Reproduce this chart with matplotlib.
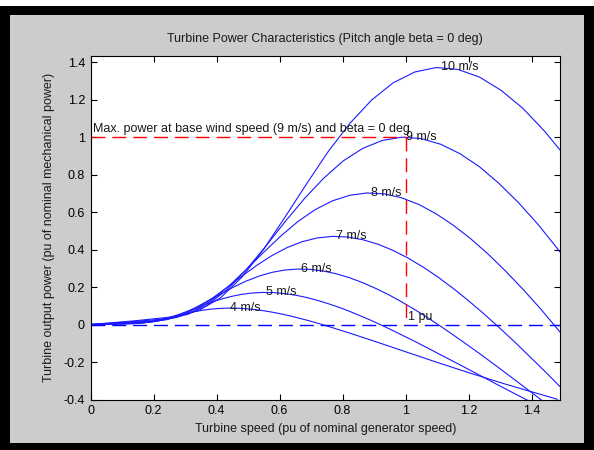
import matplotlib
matplotlib.use("Agg")
import matplotlib.pyplot as plt
from matplotlib.patches import Rectangle

plt.rcParams["font.family"] = ["Liberation Sans", "DejaVu Sans"]

# wind speeds (m/s) and the turbine curves: speed (pu) -> output power (pu)
wind_speeds = [4, 5, 6, 7, 8, 9, 10]

speed_4 = [0, 0.055, 0.110, 0.137, 0.165, 0.192, 0.219, 0.247, 0.274, 0.302,
           0.329, 0.357, 0.384, 0.412, 0.439, 0.466, 0.494, 0.521, 0.549, 0.576,
           0.604, 0.631, 0.658, 0.686, 0.713, 0.741, 0.768, 0.823, 0.878, 0.933,
           0.988, 1.043, 1.097, 1.207, 1.317, 1.481]
power_4 = [0, 0.0012, 0.0028, 0.0048, 0.0091, 0.0161, 0.0256, 0.0366, 0.0481, 0.0590,
           0.0687, 0.0767, 0.0825, 0.0862, 0.0878, 0.0871, 0.0845, 0.0800, 0.0739, 0.0662,
           0.0572, 0.0470, 0.0357, 0.0236, 0.0108, -0.0027, -0.0167, -0.0459, -0.0763, -0.1072,
           -0.1384, -0.1695, -0.2003, -0.2604, -0.3181, -0.3985]

speed_5 = [0, 0.069, 0.137, 0.171, 0.206, 0.240, 0.274, 0.309, 0.343, 0.377,
           0.412, 0.446, 0.480, 0.514, 0.549, 0.583, 0.617, 0.652, 0.686, 0.720,
           0.754, 0.789, 0.823, 0.857, 0.892, 0.926, 0.960, 1.029, 1.097, 1.166,
           1.235, 1.303, 1.372, 1.509]
power_5 = [0, 0.0024, 0.0054, 0.0093, 0.0177, 0.0315, 0.0500, 0.0716, 0.0939, 0.1153,
           0.1342, 0.1497, 0.1612, 0.1684, 0.1714, 0.1702, 0.1650, 0.1563, 0.1443, 0.1292,
           0.1116, 0.0917, 0.0698, 0.0462, 0.0211, -0.0053, -0.0326, -0.0897, -0.1490, -0.2094,
           -0.2704, -0.3311, -0.3913, -0.5087]

speed_6 = [0, 0.082, 0.165, 0.206, 0.247, 0.288, 0.329, 0.370, 0.412, 0.453,
           0.494, 0.535, 0.576, 0.617, 0.658, 0.700, 0.741, 0.782, 0.823, 0.864,
           0.905, 0.947, 0.988, 1.029, 1.070, 1.111, 1.152, 1.235, 1.317, 1.399,
           1.481, 1.564]
power_6 = [0, 0.0042, 0.0093, 0.0161, 0.0306, 0.0544, 0.0865, 0.1236, 0.1623, 0.1992,
           0.2318, 0.2587, 0.2785, 0.2910, 0.2962, 0.2941, 0.2851, 0.2700, 0.2493, 0.2233,
           0.1929, 0.1585, 0.1206, 0.0798, 0.0364, -0.0091, -0.0564, -0.1551, -0.2575, -0.3619,
           -0.4672, -0.5721]

speed_7 = [0, 0.096, 0.192, 0.240, 0.288, 0.336, 0.384, 0.432, 0.480, 0.528,
           0.576, 0.624, 0.672, 0.720, 0.768, 0.816, 0.864, 0.912, 0.960, 1.008,
           1.056, 1.104, 1.152, 1.200, 1.248, 1.296, 1.344, 1.440, 1.536]
power_7 = [0, 0.0067, 0.0148, 0.0256, 0.0485, 0.0865, 0.1373, 0.1963, 0.2577, 0.3163,
           0.3682, 0.4108, 0.4423, 0.4622, 0.4704, 0.4670, 0.4528, 0.4288, 0.3958, 0.3545,
           0.3063, 0.2517, 0.1915, 0.1267, 0.0578, -0.0145, -0.0895, -0.2462, -0.4089]

speed_8 = [0, 0.110, 0.219, 0.274, 0.329, 0.384, 0.439, 0.494, 0.549, 0.604,
           0.658, 0.713, 0.768, 0.823, 0.878, 0.933, 0.988, 1.043, 1.097, 1.152,
           1.207, 1.262, 1.317, 1.372, 1.427, 1.481, 1.536]
power_8 = [0, 0.0099, 0.0221, 0.0382, 0.0724, 0.1291, 0.2050, 0.2931, 0.3847, 0.4722,
           0.5496, 0.6132, 0.6602, 0.6899, 0.7022, 0.6971, 0.6759, 0.6400, 0.5908, 0.5292,
           0.4572, 0.3757, 0.2859, 0.1892, 0.0863, -0.0217, -0.1336]

speed_9 = [0, 0.123, 0.247, 0.309, 0.370, 0.432, 0.494, 0.556, 0.617, 0.679,
           0.741, 0.802, 0.864, 0.926, 0.988, 1.049, 1.111, 1.173, 1.235, 1.296,
           1.358, 1.420, 1.481, 1.543]
power_9 = [0, 0.0142, 0.0315, 0.0544, 0.1031, 0.1838, 0.2919, 0.4173, 0.5477, 0.6723,
           0.7825, 0.8731, 0.9400, 0.9823, 0.9998, 0.9925, 0.9623, 0.9113, 0.8413, 0.7535,
           0.6510, 0.5350, 0.4071, 0.2694]

speed_10 = [0, 0.137, 0.274, 0.343, 0.412, 0.480, 0.549, 0.617, 0.686, 0.754,
            0.823, 0.892, 0.960, 1.029, 1.097, 1.166, 1.235, 1.303, 1.372, 1.440,
            1.509]
power_10 = [0, 0.0194, 0.0432, 0.0746, 0.1415, 0.2521, 0.4004, 0.5724, 0.7513, 0.9222,
            1.0734, 1.1977, 1.2894, 1.3475, 1.3715, 1.3615, 1.3200, 1.2500, 1.1540, 1.0337,
            0.8931]

# maximum power point of each curve (where the labels sit)
peak_speed = [0.444, 0.556, 0.667, 0.778, 0.889, 1.0, 1.111]
peak_power = [0.088, 0.171, 0.296, 0.470, 0.702, 1.0, 1.372]

base_speed = 1.0
base_power = 1.0

xticks = [0, 0.2, 0.4, 0.6, 0.8, 1.0, 1.2, 1.4]
xticklabels = ["0", "0.2", "0.4", "0.6", "0.8", "1", "1.2", "1.4"]
yticks = [-0.4, -0.2, 0, 0.2, 0.4, 0.6, 0.8, 1.0, 1.2, 1.4]
yticklabels = ["-0.4", "-0.2", "0", "0.2", "0.4", "0.6", "0.8", "1", "1.2", "1.4"]

curves = [(speed_4, power_4), (speed_5, power_5), (speed_6, power_6), (speed_7, power_7),
          (speed_8, power_8), (speed_9, power_9), (speed_10, power_10)]

fig = plt.figure(figsize=(5.94, 4.5), dpi=100, facecolor="white")

# window frame: black border round the grey figure area
fig.patches.append(Rectangle((0, 0), 1, 444 / 450, transform=fig.transFigure,
                             facecolor="black", edgecolor="none", zorder=-2))
fig.patches.append(Rectangle((10 / 594, 7 / 450), 574 / 594, 428 / 450,
                             transform=fig.transFigure, facecolor="#cccccc",
                             edgecolor="none", zorder=-1))

ax = fig.add_axes([90.5 / 594, 50.5 / 450, 469.5 / 594, 343.5 / 450])
ax.set_facecolor("white")

for (sp, pw) in curves:
    ax.plot(sp, pw, color="#1a1aff", lw=0.8)

for v, x, y in zip(wind_speeds, peak_speed, peak_power):
    ax.text(x, y, f"{v} m/s", fontsize=9, color="#1a1a1a", ha="left", va="center")

# zero power line and max power lines
ax.plot([0, 1.5], [0, 0], color="blue", lw=1, dashes=(10, 5))
ax.plot([0, base_speed], [base_power, base_power], color="red", lw=1, dashes=(10, 5))
ax.plot([base_speed, base_speed], [base_power, 0], color="red", lw=1, dashes=(10, 5))

ax.text(0.008, 1.028, "Max. power at base wind speed (9 m/s) and beta = 0 deg",
        fontsize=9, color="#1a1a1a", ha="left", va="baseline")
ax.text(1.008, 0.025, "1 pu", fontsize=9, color="#1a1a1a", ha="left", va="baseline")

ax.set_xlim(0, 1.49)
ax.set_ylim(-0.4, 1.433)
ax.set_xticks(xticks)
ax.set_xticklabels(xticklabels)
ax.set_yticks(yticks)
ax.set_yticklabels(yticklabels)
ax.tick_params(direction="in", length=4, width=0.8, top=True, right=True,
               labelsize=9, pad=4, colors="black")
for s in ax.spines.values():
    s.set_linewidth(0.8)

ax.set_title("Turbine Power Characteristics (Pitch angle beta = 0 deg)",
             fontsize=9, color="#1a1a1a", pad=10)
ax.set_xlabel("Turbine speed (pu of nominal generator speed)", fontsize=9,
              color="#1a1a1a", labelpad=4)
ax.set_ylabel("Turbine output power (pu of nominal mechanical power)", fontsize=9,
              color="#1a1a1a", labelpad=6)

fig.savefig("out.png", dpi=100, facecolor=fig.get_facecolor())
